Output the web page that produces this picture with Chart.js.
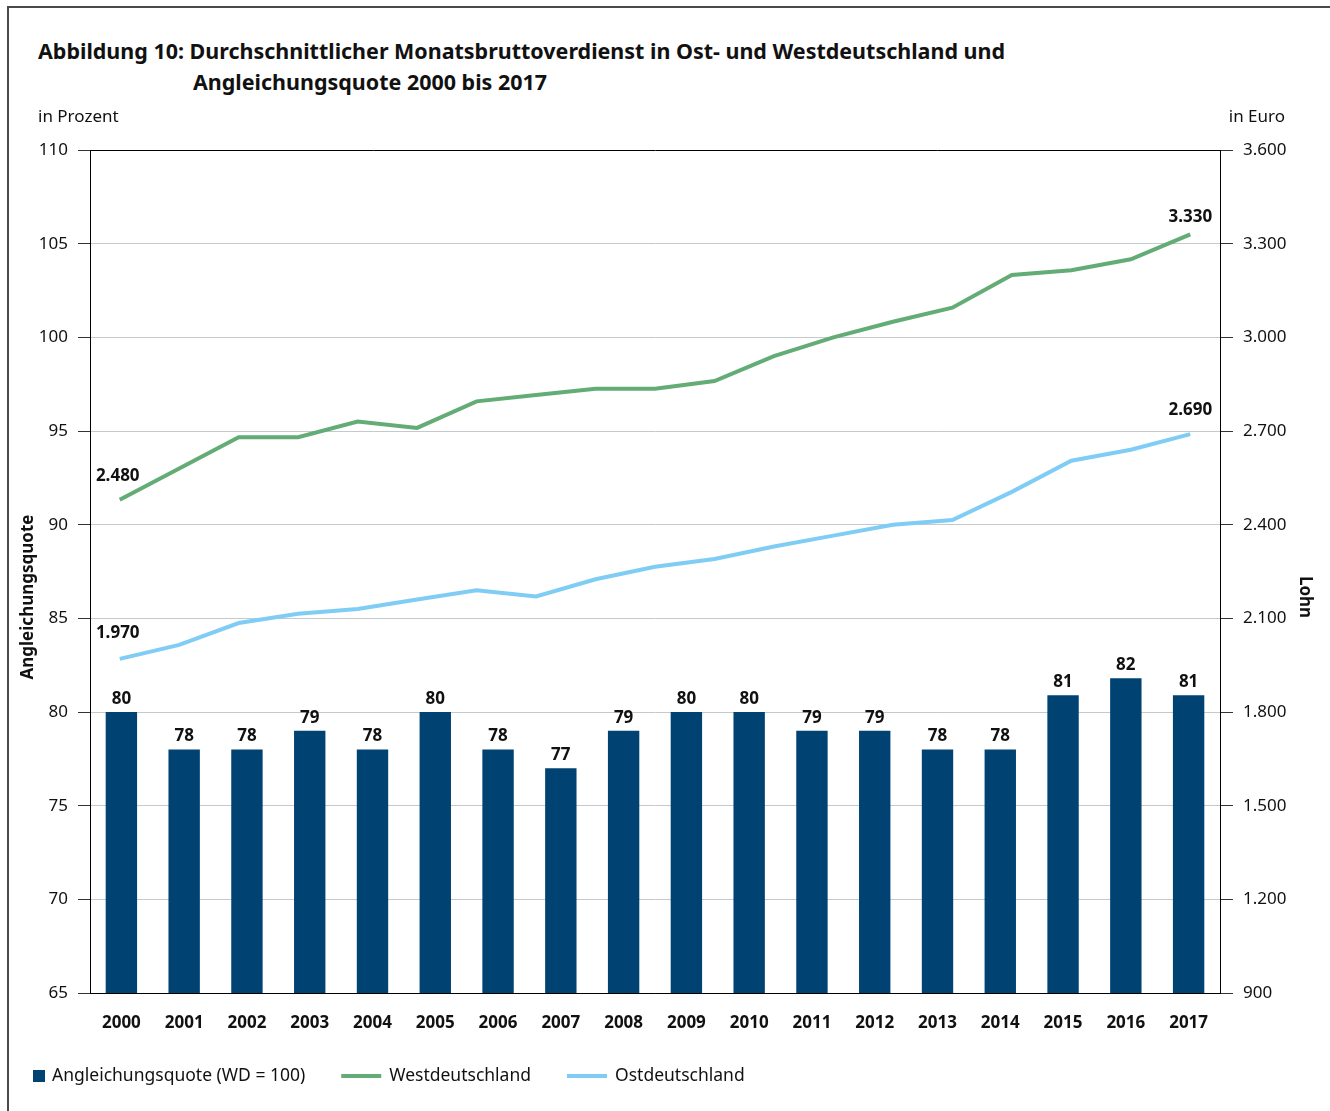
<!DOCTYPE html>
<html lang="de">
<head>
<meta charset="utf-8">
<title>Abbildung 10</title>
<script src="https://cdn.jsdelivr.net/npm/chart.js@4.4.1/dist/chart.umd.min.js"></script>
<style>
  html, body { margin: 0; padding: 0; background: #fff; overflow: hidden; }
  #wrap { position: relative; width: 1330px; height: 1111px; }
  #rahmen { position: absolute; left: 7px; top: 6px; width: 1400px; height: 1200px;
            border-top: 2px solid #4a4a4a; border-left: 2px solid #4a4a4a; }
  .titel { position: absolute; font-family: "Noto Sans", sans-serif; font-weight: bold;
           font-size: 22px; color: #111; white-space: nowrap; transform-origin: 0 50%; line-height: 30px; }
  #t1 { left: 38px; top: 35px; }
  #t2 { left: 193px; top: 66px; }
  canvas { position: absolute; left: 0; top: 0; }
</style>
</head>
<body>
<div id="wrap">
  <div id="rahmen"></div>
  <div class="titel" id="t1">Abbildung 10: Durchschnittlicher Monatsbruttoverdienst in Ost- und Westdeutschland und</div>
  <div class="titel" id="t2">Angleichungsquote 2000 bis 2017</div>
  <canvas id="chart" width="1330" height="1111"></canvas>
</div>
<script>
// Jahre (Balken) und Angleichungsquote in Prozent (WD = 100)
const JAHRE = ['2000', '2001', '2002', '2003', '2004', '2005', '2006', '2007', '2008',
               '2009', '2010', '2011', '2012', '2013', '2014', '2015', '2016', '2017'];
const QUOTE = [80, 78, 78, 79, 78, 80, 78, 77, 79, 80, 80, 79, 79, 78, 78, 80.9, 81.8, 80.9];

// die Lohnlinien haben in der Vorlage 19 Stützstellen zwischen 2000 und 2017
const LOHN_STELLEN = ['0', '1', '2', '3', '4', '5', '6', '7', '8', '9',
                      '10', '11', '12', '13', '14', '15', '16', '17', '18'];
const WEST = [2480, 2580, 2680, 2680, 2730, 2710, 2795, 2815, 2835, 2835,
              2860, 2940, 3000, 3050, 3095, 3200, 3215, 3250, 3330];
const OST = [1970, 2015, 2085, 2115, 2130, 2160, 2190, 2170, 2225, 2265,
             2290, 2330, 2365, 2400, 2415, 2505, 2605, 2640, 2690];

const SCHRIFT = '"Noto Sans", sans-serif';
const NAVY = '#004373';
const GRUEN = '#63ac76';
const HELLBLAU = '#7fcdf4';

// Tausenderpunkt wie in der Vorlage
function fmt(v) {
    return String(v).replace(/\B(?=(\d{3})+(?!\d))/g, '.');
}

// Titelzeile auf die Breite der Vorlage stauchen
const t1 = document.getElementById('t1');
const faktor = 967 / t1.getBoundingClientRect().width;
document.querySelectorAll('.titel').forEach((el) => { el.style.transform = 'scaleX(' + faktor + ')'; });

const beschriftung = {
    id: 'beschriftung',
    afterDatasetsDraw(chart) {
        const ctx = chart.ctx;
        ctx.save();
        ctx.fillStyle = '#111';
        ctx.textAlign = 'center';
        ctx.textBaseline = 'middle';
        ctx.font = 'bold 17px ' + SCHRIFT;

        // Werte über den Balken
        chart.getDatasetMeta(0).data.forEach((bar, i) => {
            ctx.fillText(String(Math.round(QUOTE[i])), bar.x, bar.y - 13);
        });

        // Anfangs- und Endwerte der Lohnlinien
        const abstand = [[24, 17], [26, 24]];
        [1, 2].forEach((d, k) => {
            const werte = chart.data.datasets[d].data;
            const punkte = chart.getDatasetMeta(d).data;
            const erster = punkte[0], letzter = punkte[punkte.length - 1];
            ctx.fillText(fmt(werte[0]), erster.x - 2, erster.y - abstand[k][0]);
            ctx.fillText(fmt(werte[werte.length - 1]), letzter.x, letzter.y - abstand[k][1]);
        });
        ctx.restore();
    },
    afterDraw(chart) {
        const ctx = chart.ctx;
        ctx.save();
        ctx.fillStyle = '#111';
        ctx.textBaseline = 'middle';

        // Einheiten über den Achsen
        ctx.font = '17px ' + SCHRIFT;
        ctx.textAlign = 'left';
        ctx.fillText('in Prozent', 38, 117);
        ctx.textAlign = 'right';
        ctx.fillText('in Euro', 1285, 117);

        // Achsentitel
        ctx.font = 'bold 17px ' + SCHRIFT;
        ctx.textAlign = 'center';
        ctx.save();
        ctx.translate(28, 597);
        ctx.rotate(-Math.PI / 2);
        ctx.fillText('Angleichungsquote', 0, 0);
        ctx.restore();
        ctx.save();
        ctx.translate(1305, 597);
        ctx.rotate(Math.PI / 2);
        ctx.fillText('Lohn', 0, 0);
        ctx.restore();

        // Legende
        ctx.font = '17.5px ' + SCHRIFT;
        ctx.textAlign = 'left';
        const ly = 1076;
        let x = 33;
        chart.data.datasets.forEach((ds) => {
            if (ds.type === 'bar') {
                ctx.fillStyle = ds.backgroundColor;
                ctx.fillRect(x, ly - 6, 12, 12);
                x += 19;
            } else {
                ctx.strokeStyle = ds.borderColor;
                ctx.lineWidth = 4;
                ctx.beginPath();
                ctx.moveTo(x, ly);
                ctx.lineTo(x + 40, ly);
                ctx.stroke();
                x += 48;
            }
            ctx.fillStyle = '#111';
            ctx.fillText(ds.label, x, ly);
            x += ctx.measureText(ds.label).width + 36;
        });
        ctx.restore();
    }
};

new Chart(document.getElementById('chart'), {
    data: {
        labels: JAHRE,
        datasets: [
            {
                type: 'bar',
                label: 'Angleichungsquote (WD = 100)',
                data: QUOTE,
                backgroundColor: NAVY,
                barPercentage: 0.5,
                categoryPercentage: 1.0,
                grouped: false,
                xAxisID: 'x',
                yAxisID: 'y',
                order: 2,
            },
            {
                type: 'line',
                label: 'Westdeutschland',
                data: WEST,
                borderColor: GRUEN,
                borderWidth: 4,
                pointRadius: 0,
                tension: 0,
                xAxisID: 'xLohn',
                yAxisID: 'y2',
                order: 1,
            },
            {
                type: 'line',
                label: 'Ostdeutschland',
                data: OST,
                borderColor: HELLBLAU,
                borderWidth: 4,
                pointRadius: 0,
                tension: 0,
                xAxisID: 'xLohn',
                yAxisID: 'y2',
                order: 1,
            },
        ],
    },
    options: {
        responsive: false,
        animation: false,
        events: [],
        layout: { padding: { top: 150, left: 0, right: 0, bottom: 0 } },
        plugins: {
            legend: { display: false },
            tooltip: { enabled: false },
            title: { display: false },
        },
        scales: {
            x: {
                type: 'category',
                labels: JAHRE,
                offset: true,
                grid: { display: false },
                border: { display: true, color: '#000', width: 1 },
                ticks: { color: '#111', font: { family: SCHRIFT, size: 17, weight: 'bold' }, padding: 12, maxRotation: 0 },
                afterFit: (s) => { s.height = 118; },
            },
            xLohn: {
                type: 'category',
                labels: LOHN_STELLEN,
                offset: true,
                display: false,
            },
            y: {
                position: 'left',
                min: 65,
                max: 110,
                ticks: { stepSize: 5, color: '#111', font: { family: SCHRIFT, size: 17 }, padding: 10 },
                grid: {
                    color: (c) => (c.tick && (c.tick.value === 110 || c.tick.value === 65)) ? '#000' : '#c3c9ce',
                    tickColor: '#333',
                    tickLength: 12,
                    lineWidth: 1,
                },
                border: { color: '#000', width: 1 },
                afterFit: (s) => { s.width = 90; },
            },
            y2: {
                position: 'right',
                min: 900,
                max: 3600,
                ticks: { stepSize: 300, color: '#111', font: { family: SCHRIFT, size: 17 }, padding: 10,
                         callback: (v) => fmt(v) },
                grid: { drawOnChartArea: false, tickColor: '#333', tickLength: 13 },
                border: { color: '#000', width: 1 },
                afterFit: (s) => { s.width = 110; },
            },
        },
    },
    plugins: [beschriftung],
});
</script>
</body>
</html>
